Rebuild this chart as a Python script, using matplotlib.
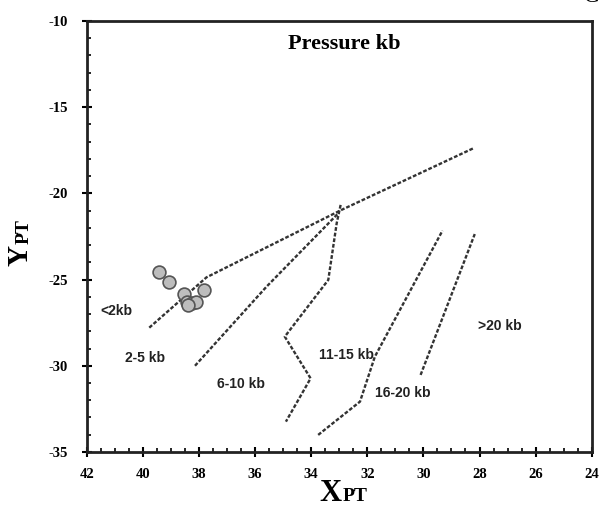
import matplotlib
matplotlib.use('Agg')
import matplotlib.pyplot as plt
from matplotlib.ticker import MultipleLocator

plt.rcParams['axes.unicode_minus'] = False

# boundary lines (X_PT, Y_PT)
lim1_x = [39.77, 37.73, 32.92, 28.2]
lim1_y = [-27.79, -24.87, -20.96, -17.37]
lim2_x = [38.14, 35.59, 33.0]
lim2_y = [-30.0, -25.41, -21.1]
lim3_x = [32.95, 33.09, 33.39, 34.94, 34.02, 34.9]
lim3_y = [-20.67, -21.73, -25.02, -28.31, -30.73, -33.24]
lim4_x = [33.75, 32.26, 31.73, 29.32]
lim4_y = [-34.01, -32.08, -29.47, -22.16]
lim5_x = [30.1, 28.17]
lim5_y = [-30.53, -22.36]

# samples
pts_x = [39.44, 39.06, 37.82, 38.52, 38.42, 38.26, 38.1, 38.39]
pts_y = [-24.54, -25.16, -25.6, -25.84, -26.28, -26.37, -26.28, -26.47]

labels = ['<2kb', '2-5 kb', '6-10 kb', '11-15 kb', '16-20 kb', '>20 kb']
lab_x = [40.94, 39.92, 36.51, 32.74, 30.72, 27.28]
lab_y = [-26.8, -29.57, -31.05, -29.37, -31.6, -27.69]

fig = plt.figure(figsize=(6.02, 5.11), dpi=100)
ax = fig.add_axes([0.144, 0.1155, 0.839, 0.8435])

for lx, ly in [(lim1_x, lim1_y), (lim2_x, lim2_y), (lim3_x, lim3_y),
               (lim4_x, lim4_y), (lim5_x, lim5_y)]:
    ax.plot(lx, ly, color='#333333', lw=1.7, dashes=(1.6, 0.8))

ax.scatter(pts_x, pts_y, s=85, facecolor='#bdbdbd', edgecolor='#555555',
           linewidth=1.2, zorder=3)

for t, x, y in zip(labels, lab_x, lab_y):
    ax.text(x, y, t, ha='center', va='center', fontsize=10,
            fontweight='bold', family='Liberation Sans', color='#222222')

ax.text(32.83, -11.35, 'Pressure kb', ha='center', va='center', fontsize=16,
        fontweight='bold', family='Liberation Serif')

ax.set_xlim(42, 24)
ax.set_ylim(-35, -10)
ax.xaxis.set_major_locator(MultipleLocator(2))
ax.xaxis.set_minor_locator(MultipleLocator(0.5))
ax.yaxis.set_major_locator(MultipleLocator(5))
ax.yaxis.set_minor_locator(MultipleLocator(1))
ax.tick_params(which='major', direction='inout', length=7, width=1.5,
               labelsize=10.5, pad=8)
ax.tick_params(axis='y', which='major', pad=10)
ax.tick_params(which='minor', direction='in', length=3, width=1.2)
for lab in ax.get_xticklabels() + ax.get_yticklabels():
    lab.set_family('Liberation Serif')
    lab.set_fontweight('bold')
for s in ax.spines.values():
    s.set_linewidth(2)
    s.set_color('#222222')

# axis titles
fig.text(0.568, 0.02, 'X', fontsize=22, fontweight='bold',
         family='Liberation Serif', ha='right', va='baseline')
fig.text(0.569, 0.02, 'PT', fontsize=14, fontweight='bold',
         family='Liberation Serif', ha='left', va='baseline')
fig.text(0.055, 0.52, 'Y', fontsize=21, fontweight='bold',
         family='Liberation Serif', rotation=90, ha='right', va='top')
fig.text(0.055, 0.522, 'PT', fontsize=14, fontweight='bold',
         family='Liberation Serif', rotation=90, ha='right', va='bottom')

fig.text(0.995, 1.005, 'G', fontsize=16, family='Liberation Serif',
         ha='right', va='center')

fig.savefig('out.png', dpi=100)
